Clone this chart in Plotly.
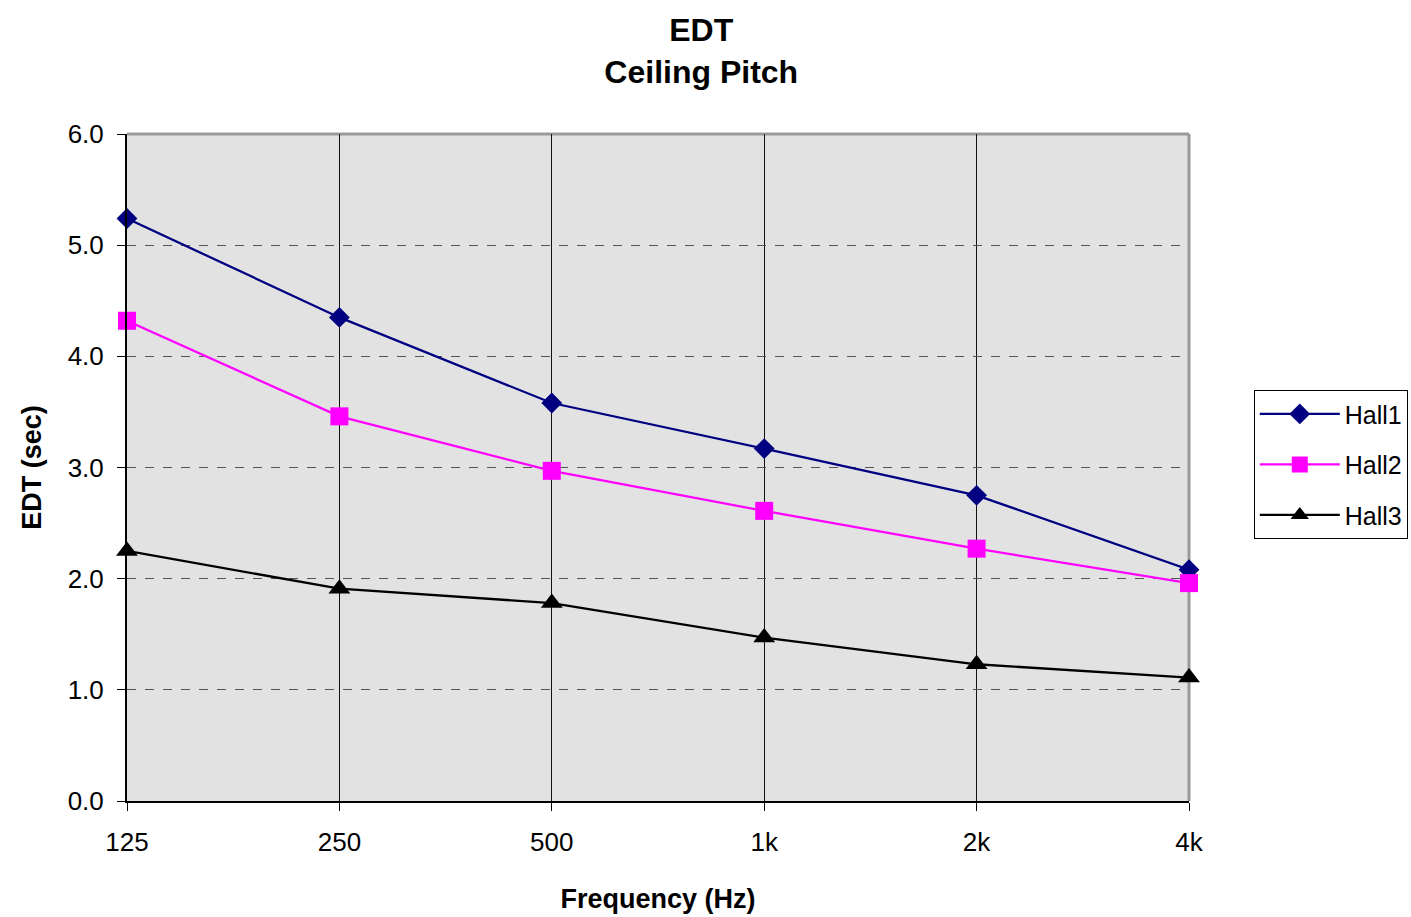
import plotly.graph_objects as go

freqs = ["125", "250", "500", "1k", "2k", "4k"]
hall1 = [5.24, 4.35, 3.58, 3.17, 2.75, 2.08]
hall2 = [4.32, 3.46, 2.97, 2.61, 2.27, 1.96]
hall3 = [2.25, 1.91, 1.78, 1.47, 1.23, 1.11]
yticks = [0, 1, 2, 3, 4, 5, 6]
ytick_labels = ["0.0", "1.0", "2.0", "3.0", "4.0", "5.0", "6.0"]

xidx = list(range(len(freqs)))
FONT = "Liberation Sans, Arial, sans-serif"

fig = go.Figure()
series = [
    ("Hall1", hall1, "#000080", "diamond", 16),
    ("Hall2", hall2, "#FF00FF", "square", 18),
    ("Hall3", hall3, "#000000", "triangle-up", 19),
]
for name, vals, color, sym, size in series:
    fig.add_trace(go.Scatter(
        x=xidx, y=vals, name=name, mode="lines+markers",
        line=dict(color=color, width=2.3),
        marker=dict(symbol=sym, size=size, color=color),
        legendgroup=name, cliponaxis=False,
    ))

fig.update_layout(
    width=1411, height=917,
    margin=dict(l=127, r=222, t=134, b=116, autoexpand=False),
    paper_bgcolor="white", plot_bgcolor="#E2E2E2",
    font=dict(family=FONT, size=26, color="black"),
    title=dict(text="<b>EDT</b><br><b>Ceiling Pitch</b>", x=0.497, xanchor="center",
               y=0.955, yanchor="top", font=dict(size=32)),
    showlegend=True,
    legend=dict(x=1.061, y=0.616, xanchor="left", yanchor="top",
                bordercolor="black", borderwidth=1, bgcolor="white",
                font=dict(size=25), tracegroupgap=15, traceorder="grouped",
                itemwidth=80),
    xaxis=dict(
        range=[0, 5], tickvals=xidx, ticktext=freqs,
        showgrid=True, gridcolor="#111111", gridwidth=1,
        showline=True, linecolor="black", linewidth=2,
        ticks="outside", ticklen=8, tickcolor="black",
        ticklabelstandoff=9,
        zeroline=False,
        title=dict(text="<b>Frequency (Hz)</b>", font=dict(size=27), standoff=33),
    ),
    yaxis=dict(
        range=[0, 6], tickvals=yticks, ticktext=ytick_labels,
        showgrid=True, gridcolor="#555555", gridwidth=1, griddash="dash",
        showline=True, linecolor="black", linewidth=2,
        ticks="outside", ticklen=8, tickcolor="black",
        ticklabelstandoff=8,
        zeroline=False,
        title=dict(text="<b>EDT (sec)</b>", font=dict(size=27), standoff=18),
    ),
)
fig.add_shape(type="line", xref="paper", yref="paper", x0=0, x1=1, y0=1, y1=1,
              line=dict(color="#999999", width=3), layer="below")
fig.add_shape(type="line", xref="paper", yref="paper", x0=1, x1=1, y0=0, y1=1,
              line=dict(color="#999999", width=3), layer="below")

fig.write_html("out.html")
